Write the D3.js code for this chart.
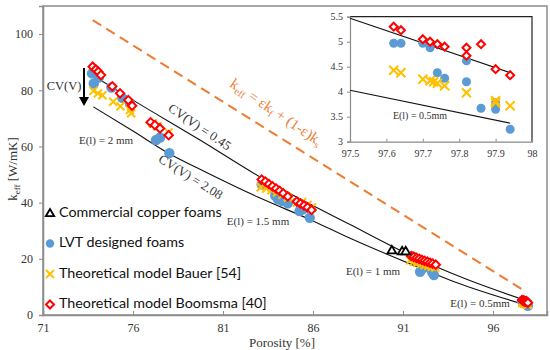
<!DOCTYPE html>
<html><head><meta charset="utf-8">
<script src="https://cdn.jsdelivr.net/npm/d3@7"></script>
<style>body{margin:0;background:#fff}svg{display:block}</style>
</head><body><svg id="c" width="550" height="350"></svg>
<script>
// ---- data ----
const xTicks = [71, 76, 81, 86, 91, 96];
const yTicks = [0, 20, 40, 60, 80, 100];
const insetXTicks = [97.5, 97.6, 97.7, 97.8, 97.9, 98];
const insetYTicks = [3, 3.5, 4, 4.5, 5, 5.5];

const lvtPorosity = [73.72,73.82,74.1,74.8,75.4,75.83,77.28,77.5,78.02,
  83.15,83.9,84.05,84.3,84.6,85.25,85.45,85.82,
  91.55,91.8,91.95,92.1,92.4,92.62,92.72,
  97.62,97.64,97.70,97.72,97.74,97.76,97.82,97.82,97.86,97.90,97.90,97.94];
const lvtK = [86.0,82.4,84.5,81.0,77.3,75.3,62.3,63.2,57.6,
  46.5,42.5,41.2,40.6,39.8,37.0,37.6,34.6,
  20.8,19.2,15.4,16.6,17.5,15.2,14.2,
  4.97,4.97,4.97,4.88,4.38,4.27,4.62,4.20,3.67,3.65,3.78,3.25];

const bauerPorosity = [73.8,74.05,74.3,74.9,75.3,75.83,75.9,77.1,77.35,77.98,
  83.1,83.4,83.7,84.0,84.3,84.6,85.1,85.4,85.7,85.95,
  91.4,91.6,91.8,92.0,92.2,92.4,92.6,92.8,
  97.62,97.64,97.70,97.72,97.73,97.74,97.76,97.82,97.90,97.90,97.94];
const bauerK = [79.8,78.9,78.2,75.9,74.3,73.0,71.8,68.2,67.2,65.0,
  45.5,45.0,44.4,43.6,42.8,41.8,40.0,40.2,39.2,38.3,
  19.5,19.0,18.6,18.2,17.8,17.5,17.2,16.9,
  4.43,4.38,4.25,4.22,4.20,4.17,4.12,3.98,3.82,3.78,3.72];

const boomsmaPorosity = [73.76,73.93,74.07,74.22,74.85,75.28,75.74,75.95,76.98,77.22,77.5,77.98,
  83.15,83.35,83.55,83.75,83.95,84.15,84.35,84.6,85.1,85.3,85.5,85.7,85.92,
  91.45,91.6,91.75,91.9,92.05,92.2,92.35,92.5,92.65,92.82,
  97.62,97.64,97.70,97.72,97.74,97.76,97.82,97.82,97.86,97.90,97.94];
const boomsmaK = [88.4,87.4,86.6,85.4,81.4,78.9,76.5,74.5,68.6,67.6,66.4,64.0,
  48.2,47.5,46.6,45.8,45.0,44.2,43.3,42.2,40.4,39.7,39.0,38.3,37.4,
  21.0,20.7,20.3,20.0,19.6,19.3,19.0,18.6,18.3,17.9,
  5.30,5.23,5.05,5.00,4.95,4.90,4.88,4.72,4.95,4.45,4.33];

const commercialPorosity = [90.38, 90.95, 91.15];
const commercialK = [23.1, 22.8, 22.8];

// fitted curves
const cv045Porosity = [73.8, 76, 79.72, 83.2, 88.06, 91.5, 94.5, 97.9];
const cv045K = [85.2, 76.5, 62.3, 48.6, 32.2, 21.0, 12.8, 5.0];
const cv208Porosity = [73.8, 76, 78, 80, 83, 86, 88, 91.4, 94, 97.96];
const cv208K = [74.1, 65.5, 57.5, 51.0, 41.8, 33.5, 27.5, 18.2, 11.5, 3.3];
const mixPorosity = [73.76, 97.67];
const mixK = [105, 8.9];

const insetCv045Porosity = [97.5, 97.94];
const insetCv045K = [5.47, 4.38];
const insetCv208Porosity = [97.5, 97.94];
const insetCv208K = [4.03, 3.37];

const legendLabels = ["Commercial copper foams", "LVT designed foams", "Theoretical model Bauer [54]", "Theoretical model Boomsma [40]"];

// ---- colors ----
const BLUE = "#5B9BD5", YELLOW = "#FFC000", RED = "#FF0000", ORANGE = "#ED7D31", GRAY = "#8c8c8c";
const SERIF = "'Liberation Serif','Times New Roman',serif";
const SANS = "Lato,'Liberation Sans',sans-serif";

const svg = d3.select("#c");
const zip = (a, b) => a.map((v, i) => [v, b[i]]);

const x = d3.scaleLinear().domain([71, 99]).range([43, 547]);
const y = d3.scaleLinear().domain([0, 110]).range([315, 6]);

// frame
svg.append("rect").attr("x", x(71)).attr("y", y(110)).attr("width", x(99) - x(71)).attr("height", y(0) - y(110))
  .attr("fill", "none").attr("stroke", GRAY).attr("stroke-width", 1.5);

// axes
const gx = svg.append("g").attr("transform", `translate(0,${y(0)})`)
  .call(d3.axisBottom(x).tickValues(xTicks).tickSize(-4).tickPadding(8).tickFormat(d3.format("d")));
const gy = svg.append("g").attr("transform", `translate(${x(71)},0)`)
  .call(d3.axisLeft(y).tickValues(yTicks).tickSize(4).tickPadding(6).tickFormat(d3.format("d")));
[gx, gy].forEach(g => {
  g.select(".domain").attr("stroke", GRAY).attr("stroke-width", 1.5);
  g.selectAll(".tick line").attr("stroke", GRAY);
  g.selectAll("text").attr("font-family", SERIF).attr("font-size", 12).attr("fill", "#333");
});

// axis titles
svg.append("text").attr("x", 282).attr("y", 346.5).attr("text-anchor", "middle")
  .attr("font-family", SERIF).attr("font-size", 13).attr("fill", "#333").text("Porosity [%]");
const yt = svg.append("text").attr("transform", "translate(17,169) rotate(-90)").attr("text-anchor", "middle")
  .attr("font-family", SERIF).attr("font-size", 13).attr("fill", "#333");
yt.append("tspan").text("k");
yt.append("tspan").attr("font-size", 9).attr("dy", 3).text("eff");
yt.append("tspan").attr("dy", -3).text(" [W/mK]");

// lines
const line = d3.line().x(d => x(d[0])).y(d => y(d[1])).curve(d3.curveMonotoneX);
svg.append("path").attr("d", d3.line().x(d => x(d[0])).y(d => y(d[1]))(zip(mixPorosity, mixK)))
  .attr("fill", "none").attr("stroke", ORANGE).attr("stroke-width", 2).attr("stroke-dasharray", "10,6");
svg.append("path").attr("d", line(zip(cv045Porosity, cv045K))).attr("fill", "none").attr("stroke", "#111").attr("stroke-width", 1.1);
svg.append("path").attr("d", line(zip(cv208Porosity, cv208K))).attr("fill", "none").attr("stroke", "#111").attr("stroke-width", 1.1);

// markers
function drawSeries(g, xs, ys, px, py, kind, s) {
  const pts = zip(px, py).filter(d => xs.domain()[0] <= d[0] && d[0] <= xs.domain()[1] && ys.domain()[0] <= d[1] && d[1] <= ys.domain()[1]);
  const sel = g.append("g").selectAll("path").data(pts).join("path")
    .attr("transform", d => `translate(${xs(d[0])},${ys(d[1])})`);
  if (kind === "circle") sel.attr("d", d3.symbol(d3.symbolCircle, Math.PI * s * s)).attr("fill", BLUE);
  if (kind === "x") sel.attr("d", `M${-s},${-s}L${s},${s}M${-s},${s}L${s},${-s}`).attr("stroke", YELLOW).attr("stroke-width", 2).attr("fill", "none");
  if (kind === "diamond") sel.attr("d", `M0,${-s}L${s},0L0,${s}L${-s},0Z`).attr("stroke", RED).attr("stroke-width", 2).attr("fill", "#fff");
  if (kind === "tri") sel.attr("d", `M0,${-s}L${s * 1.05},${s * 0.8}L${-s * 1.05},${s * 0.8}Z`).attr("stroke", "#000").attr("stroke-width", 1.8).attr("fill", "#fff");
}
const main = svg.append("g");
drawSeries(main, x, y, lvtPorosity, lvtK, "circle", 5.2);
drawSeries(main, x, y, bauerPorosity, bauerK, "x", 4);
drawSeries(main, x, y, boomsmaPorosity, boomsmaK, "diamond", 4.2);
drawSeries(main, x, y, commercialPorosity, commercialK, "tri", 4.2);

// annotations
const ann = (t, cx, cy, size, rot, color) => svg.append("text")
  .attr("transform", `translate(${cx},${cy}) rotate(${rot || 0})`).attr("text-anchor", "middle").attr("dominant-baseline", "middle")
  .attr("font-family", SERIF).attr("font-size", size).attr("fill", color || "#333").text(t);
ann("E(l) = 2 mm", 106, 141, 11);
ann("E(l) = 1.5 mm", 258, 222, 11);
ann("E(l) = 1 mm", 373, 272, 11);
ann("E(l) = 0.5mm", 480, 304, 11);
ann("CV(V) = 0.45", 199, 128, 13, 34);
ann("CV(V) = 2.08", 190, 178, 13, 32);
ann("CV(V)", 64, 87, 12.5);
// arrow
svg.append("line").attr("x1", 84).attr("y1", 68).attr("x2", 84).attr("y2", 99).attr("stroke", "#000").attr("stroke-width", 2);
svg.append("path").attr("d", "M79,97L89,97L84,106Z").attr("fill", "#000");

// orange formula
const f = svg.append("text").attr("transform", "translate(229,86) rotate(34)").attr("text-anchor", "start")
  .attr("font-family", SERIF).attr("font-size", 15).attr("fill", ORANGE);
f.append("tspan").text("k");
f.append("tspan").attr("font-size", 10).attr("dy", 3).text("eff");
f.append("tspan").attr("dy", -3).text(" = εk");
f.append("tspan").attr("font-size", 10).attr("dy", 3).text("f");
f.append("tspan").attr("dy", -3).text(" + (1-ε)k");
f.append("tspan").attr("font-size", 10).attr("dy", 3).text("s");

// legend
const legY = [213, 243.5, 274, 304.5];
const kinds = ["tri", "circle", "x", "diamond"];
const sizes = [4, 4.2, 4, 4];
legendLabels.forEach((lab, i) => {
  const g = svg.append("g");
  drawSeries(g, d3.scaleLinear().domain([0, 1]).range([50, 51]), d3.scaleLinear().domain([0, 1]).range([legY[i], legY[i] + 1]), [0], [0], kinds[i], sizes[i]);
  svg.append("text").attr("x", 59).attr("y", legY[i]).attr("dominant-baseline", "middle")
    .attr("font-family", SANS).attr("font-size", 14.3).attr("fill", "#111").text(lab);
});

// ---- inset ----
const ix = d3.scaleLinear().domain([97.5, 98]).range([350, 532]);
const iy = d3.scaleLinear().domain([3, 5.5]).range([141.7, 16.7]);
const inset = svg.append("g");
inset.append("rect").attr("x", 328).attr("y", 9).attr("width", 216).attr("height", 157).attr("fill", "#fff");
inset.append("path").attr("d", `M${ix(97.5)},${iy(5.5)}L${ix(98)},${iy(5.5)}L${ix(98)},${iy(3)}`).attr("fill", "none").attr("stroke", "#222").attr("stroke-width", 1.2);
const igx = inset.append("g").attr("transform", `translate(0,${iy(3)})`)
  .call(d3.axisBottom(ix).tickValues(insetXTicks).tickSize(-3).tickPadding(8).tickFormat(d => d3.format("")(d)));
const igy = inset.append("g").attr("transform", `translate(${ix(97.5)},0)`)
  .call(d3.axisLeft(iy).tickValues(insetYTicks).tickSize(3).tickPadding(4).tickFormat(d => d3.format("")(d)));
[igx, igy].forEach(g => {
  g.select(".domain").attr("stroke", GRAY).attr("stroke-width", 1.2);
  g.selectAll(".tick line").attr("stroke", GRAY);
  g.selectAll("text").attr("font-family", SERIF).attr("font-size", 10).attr("fill", "#333");
});
const iline = d3.line().x(d => ix(d[0])).y(d => iy(d[1]));
inset.append("path").attr("d", iline(zip(insetCv045Porosity, insetCv045K))).attr("fill", "none").attr("stroke", "#111").attr("stroke-width", 1.1);
inset.append("path").attr("d", iline(zip(insetCv208Porosity, insetCv208K))).attr("fill", "none").attr("stroke", "#111").attr("stroke-width", 1.1);
drawSeries(inset, ix, iy, lvtPorosity, lvtK, "circle", 4.5);
drawSeries(inset, ix, iy, bauerPorosity, bauerK, "x", 4.5);
drawSeries(inset, ix, iy, boomsmaPorosity, boomsmaK, "diamond", 4);
inset.append("text").attr("x", 420).attr("y", 117).attr("text-anchor", "middle").attr("dominant-baseline", "middle")
  .attr("font-family", SERIF).attr("font-size", 10).attr("fill", "#333").text("E(l) = 0.5mm");
</script></body></html>
